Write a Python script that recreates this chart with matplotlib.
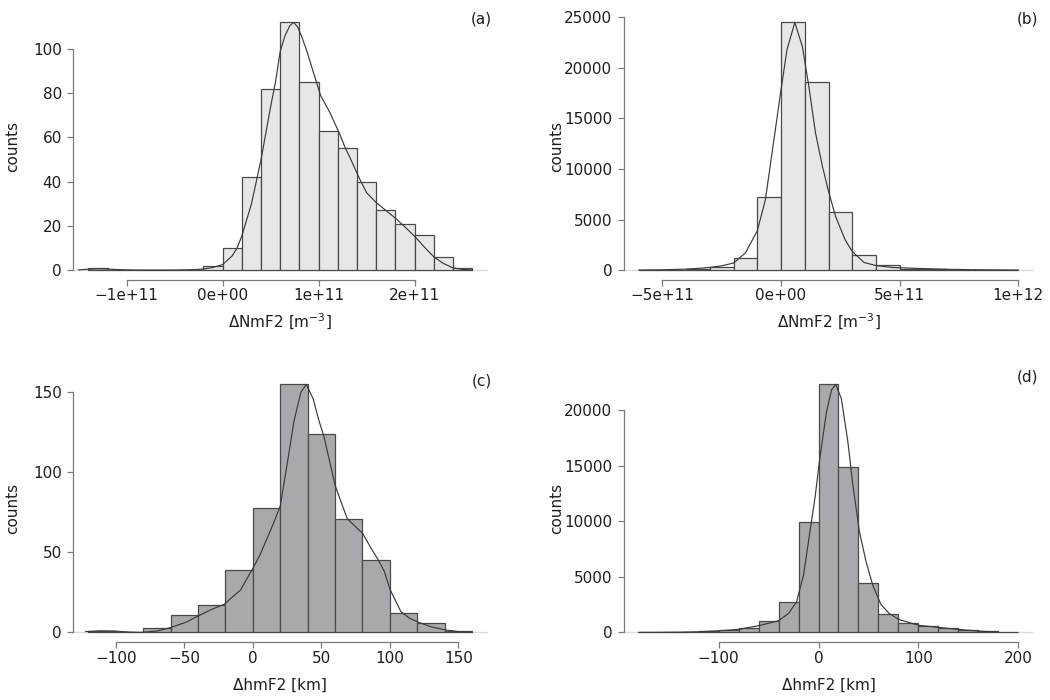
import numpy as np
import matplotlib
matplotlib.use("Agg")
import matplotlib.pyplot as plt

plt.rcParams['font.family'] = ['DejaVu Sans']

# ---------------- data ----------------
# (a) NmF2 differences, small sample
a_bin_start = -1.4e11
a_bin_width = 2e10
a_counts = [1, 0, 0, 0, 0, 0, 2, 10, 42, 82, 112, 85, 63, 55, 40, 27, 21, 16, 6, 1]
a_kde_x = [-15, -14, -13, -12, -11, -10, -9, -7, -5, -3, -2, -1, 0, 1, 1.5, 2, 3, 4, 5, 5.5,
           6, 6.5, 7, 7.4, 7.8, 8.2, 8.7, 9.2, 9.7, 10.2, 11.2, 12.2, 12.8, 13.2, 14.3, 15,
           16, 17, 18, 19, 20, 21, 22, 23, 24, 25, 26]  # x in units of 1e10
a_kde_y = [0.1, 0.4, 0.6, 0.5, 0.25, 0.1, 0.03, 0.0, 0.02, 0.2, 0.5, 1.2, 2.5, 6.5, 10, 15.5, 30, 50, 74, 85,
           99, 106, 110.5, 112, 110, 106, 100, 93, 86, 79, 71, 61.5, 55, 51.5, 41, 35,
           30.5, 27, 23.5, 19.5, 15.3, 10.5, 6, 3, 1, 0.3, 0.05]
a_xticks = [-1e11, 0, 1e11, 2e11]
a_xticklabels = ["\u22121e+11", "0e+00", "1e+11", "2e+11"]
a_yticks = [0, 20, 40, 60, 80, 100]

# (b) NmF2 differences, large sample
b_bin_start = -6e11
b_bin_width = 1e11
b_counts = [10, 40, 110, 330, 1200, 7200, 24500, 18650, 5700, 1520, 460, 120, 60, 25, 10, 5]
b_kde_x = [-6, -5, -4, -3.5, -3, -2.5, -2, -1.5, -1, -0.66, -0.3, 0, 0.25, 0.58, 0.9, 1.17, 1.45,
           1.74, 2, 2.3, 2.7, 3, 3.5, 4, 4.7, 5.8, 7, 8, 9, 10]  # x in units of 1e11
b_kde_y = [5, 30, 100, 170, 260, 420, 700, 1700, 3900, 6960, 12900, 17850, 21800, 24500, 22100, 18200, 13600,
           10300, 7800, 5300, 3000, 1850, 750, 450, 260, 160, 80, 40, 20, 5]
b_xticks = [-5e11, 0, 5e11, 1e12]
b_xticklabels = ["\u22125e+11", "0e+00", "5e+11", "1e+12"]
b_yticks = [0, 5000, 10000, 15000, 20000, 25000]

# (c) hmF2 differences, small sample
c_bin_start = -120
c_bin_width = 20
c_counts = [1, 0, 3, 11, 17, 39, 78, 155, 124, 71, 45, 12, 6, 1]
c_kde_x = [-122, -111, -100, -90, -82, -70, -60, -48, -41, -31, -21, -9, 0, 5, 10, 15, 20, 25, 30, 35, 39,
           44, 48, 52, 56, 60, 65, 69, 75, 80, 86, 91, 96, 100, 104, 108, 114, 120, 130, 140, 150, 160]
c_kde_y = [0.5, 1.0, 0.8, 0.2, 0.0, 0.8, 3, 6.6, 9.8, 14, 17.5, 26.5, 40, 48, 58, 68, 79, 105, 132, 150, 155,
           146, 133, 122, 107, 92, 80, 71, 66, 62, 53, 46, 38, 27, 20, 13, 9, 6.6, 3.5, 1.6, 0.5, 0.1]
c_xticks = [-100, -50, 0, 50, 100, 150]
c_xticklabels = ["\u2212100", "\u221250", "0", "50", "100", "150"]
c_yticks = [0, 50, 100, 150]

# (d) hmF2 differences, large sample
d_bin_start = -180
d_bin_width = 20
d_counts = [3, 5, 12, 80, 180, 415, 1015, 2750, 9950, 22300, 14850, 4400, 1680, 880, 565, 400, 205, 90, 20]
d_kde_x = [-180, -160, -140, -120, -100, -80, -60, -50, -40, -30, -22, -15, -8.6, -3.6, 1.3, 8, 13, 17.2,
           22.8, 29.4, 34.4, 41, 47.6, 54.3, 62.5, 70.8, 80.7, 94, 101, 120, 140, 160, 180]
d_kde_y = [0, 5, 20, 55, 140, 270, 600, 820, 1050, 1700, 2750, 5150, 9050, 12050, 15650, 19840, 21800, 22300,
           21040, 17140, 13250, 9050, 6350, 4250, 2500, 1700, 1150, 800, 630, 450, 270, 120, 30]
d_xticks = [-100, 0, 100, 200]
d_xticklabels = ["\u2212100", "0", "100", "200"]
d_yticks = [0, 5000, 10000, 15000, 20000]

# ---------------- style ----------------
FS = 11
AXCOL = '#7a7a7a'
TXTCOL = '#1e1e1e'
LIGHT_FILL = '#e6e7e9'
DARK_FILL = '#a8a9ac'
EDGE = '#4a4a4a'
CURVE = '#3a3a3a'

W, H = 1050, 700
fig = plt.figure(figsize=(W / 100, H / 100), dpi=100)


def px_axes(x0, y0, x1, y1):
    return fig.add_axes([x0 / W, 1 - y1 / H, (x1 - x0) / W, (y1 - y0) / H])


def draw(ax, bin_start, bin_width, counts, kx, ky, fill, xticks, xticklabels, yticks):
    counts = np.asarray(counts, dtype=float)
    edges = bin_start + bin_width * np.arange(len(counts) + 1)
    lo, hi = edges[0], edges[-1]
    r = hi - lo
    ymax = counts.max()
    ax.set_xlim(lo - 0.04 * r, hi + 0.04 * r)
    ax.set_ylim(-0.04 * ymax, 1.04 * ymax)
    ax.axhline(0, color='#dcdcdc', lw=1.0, zorder=0.5)
    ax.bar(edges[:-1], counts, width=bin_width, align='edge', color=fill,
           edgecolor=EDGE, linewidth=0.9, zorder=2)
    ax.plot(kx, ky, color=CURVE, lw=0.85, zorder=3)
    for s in ['top', 'right']:
        ax.spines[s].set_visible(False)
    for s in ['left', 'bottom']:
        ax.spines[s].set_color(AXCOL)
        ax.spines[s].set_linewidth(0.9)
    ax.spines['left'].set_bounds(yticks[0], yticks[-1])
    ax.spines['bottom'].set_bounds(xticks[0], xticks[-1])
    ax.set_xticks(xticks)
    ax.set_xticklabels(xticklabels)
    ax.set_yticks(yticks)
    ax.set_yticklabels([str(v) for v in yticks])
    ax.tick_params(axis='both', direction='out', length=4, width=0.9, color=AXCOL,
                   labelsize=FS, labelcolor=TXTCOL)
    ax.tick_params(axis='x', pad=2)
    ax.tick_params(axis='y', pad=4)
    ax.patch.set_alpha(0)


L0, L1 = 73, 487.5
R0, R1 = 623.5, 1033.5
T0, T1 = 12.5, 280
B0, B1 = 374.5, 642.3

ax_a = px_axes(L0, T0, L1, T1)
draw(ax_a, a_bin_start, a_bin_width, a_counts, np.array(a_kde_x) * 1e10, a_kde_y,
     LIGHT_FILL, a_xticks, a_xticklabels, a_yticks)
ax_b = px_axes(R0, T0, R1, T1)
draw(ax_b, b_bin_start, b_bin_width, b_counts, np.array(b_kde_x) * 1e11, b_kde_y,
     LIGHT_FILL, b_xticks, b_xticklabels, b_yticks)
ax_c = px_axes(L0, B0, L1, B1)
draw(ax_c, c_bin_start, c_bin_width, c_counts, c_kde_x, c_kde_y,
     DARK_FILL, c_xticks, c_xticklabels, c_yticks)
ax_d = px_axes(R0, B0, R1, B1)
draw(ax_d, d_bin_start, d_bin_width, d_counts, d_kde_x, d_kde_y,
     DARK_FILL, d_xticks, d_xticklabels, d_yticks)

# axis titles
def ftext(x, y, s, **kw):
    fig.text(x / W, 1 - y / H, s, fontsize=FS, color=TXTCOL, **kw)

ftext(13, (T0 + T1) / 2, 'counts', rotation=90, ha='center', va='center')
ftext(557, (T0 + T1) / 2, 'counts', rotation=90, ha='center', va='center')
ftext(13, (B0 + B1) / 2, 'counts', rotation=90, ha='center', va='center')
ftext(557, (B0 + B1) / 2, 'counts', rotation=90, ha='center', va='center')

ftext((L0 + L1) / 2, 322, r'$\Delta$NmF2 [m$^{-3}$]', ha='center', va='center')
ftext((R0 + R1) / 2, 322, r'$\Delta$NmF2 [m$^{-3}$]', ha='center', va='center')
ftext((L0 + L1) / 2, 685, r'ΔhmF2 [km]', ha='center', va='center')
ftext((R0 + R1) / 2, 685, r'ΔhmF2 [km]', ha='center', va='center')

ftext(492, 19, '(a)', ha='right', va='center')
ftext(1038, 19, '(b)', ha='right', va='center')
ftext(492, 381, '(c)', ha='right', va='center')
ftext(1038, 377, '(d)', ha='right', va='center')

fig.savefig('out.png', dpi=100)
